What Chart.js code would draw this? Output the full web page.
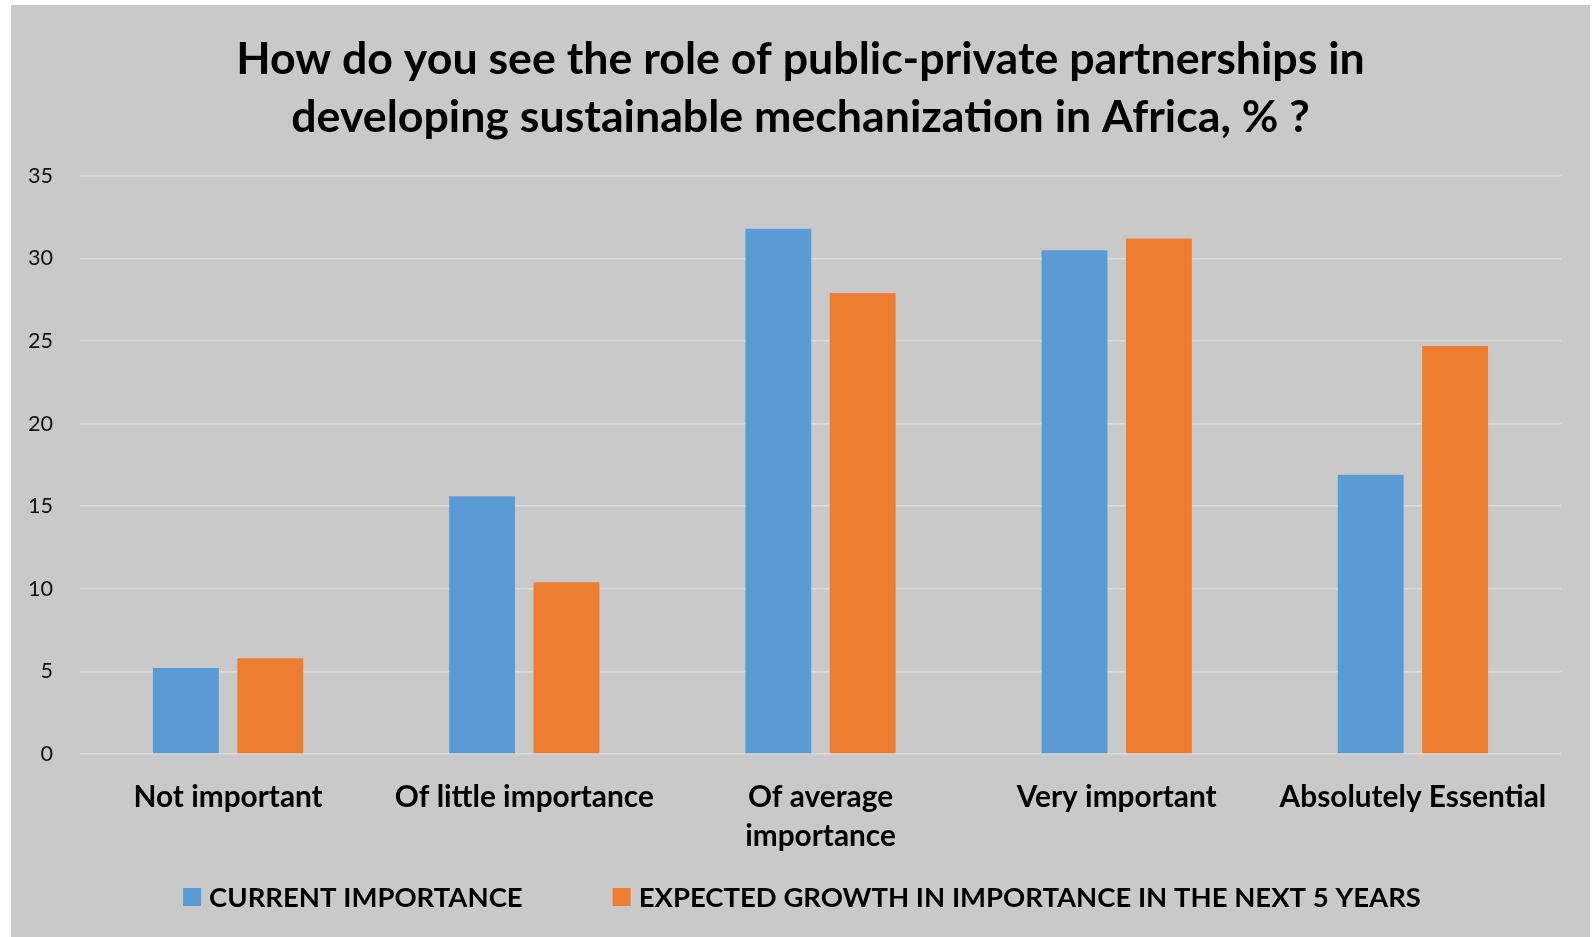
<!DOCTYPE html>
<html>
<head>
<meta charset="utf-8">
<title>Public-private partnerships</title>
<script src="https://cdn.jsdelivr.net/npm/chart.js@4.4.1/dist/chart.umd.min.js"></script>
<style>
    html, body { margin: 0; padding: 0; background: #fff; }
    #wrap { width: 1593px; height: 937px; position: relative; }
</style>
</head>
<body>
<div id="wrap"><canvas id="myChart"></canvas></div>
<script>
        // survey answers, % of respondents
        const categories = ['Not important', 'Of little importance', ['Of average', 'importance'], 'Very important', 'Absolutely Essential'];
        const currentImportance = [5.2, 15.6, 31.8, 30.5, 16.9];
        const expectedGrowth = [5.8, 10.4, 27.9, 31.2, 24.7];
        const seriesNames = ['CURRENT IMPORTANCE', 'EXPECTED GROWTH IN IMPORTANCE IN THE NEXT 5 YEARS'];
        const seriesColors = ['#5B9BD5', '#ED7D31'];
        const yMax = 35;
        const yStep = 5;
        const titleLines = ['How do you see the role of public-private partnerships in', 'developing sustainable mechanization in Africa, % ?'];

        const FONT = 'Lato';
        const PANEL = '#C9C9C9';

        // pick a font size so a string comes out at a given width
        const probe = document.createElement('canvas').getContext('2d');
        function sizeFor(text, weight, width) {
            probe.font = `${weight} 100px ${FONT}`;
            return Math.round(1000 * width / probe.measureText(text).width) / 10;
        }

        const titleSize = sizeFor(titleLines[0], 'bold', 1129);
        const labelSize = sizeFor('Not important', 'bold', 189);
        const tickSize = sizeFor('35', 'normal', 25);
        const legendSize = sizeFor(seriesNames[0], 'bold', 313);

        // grey panel behind everything
        const panelBg = {
            id: 'panelBg',
            beforeDraw(chart) {
                const c = chart.ctx;
                c.save();
                c.fillStyle = '#fff';
                c.fillRect(0, 0, chart.width, chart.height);
                c.fillStyle = PANEL;
                c.fillRect(11, 5, 1579, chart.height - 5);
                c.restore();
            }
        };

        // legend row under the axis
        const bottomLegend = {
            id: 'bottomLegend',
            afterDraw(chart) {
                const c = chart.ctx;
                const box = 18, gap = 8, spacing = 90, midY = 897;
                c.save();
                c.font = `bold ${legendSize}px ${FONT}`;
                c.textBaseline = 'middle';
                const widths = chart.data.datasets.map(ds => c.measureText(ds.label).width);
                let total = 0;
                widths.forEach((w, i) => { total += box + gap + w + (i ? spacing : 0); });
                let x = 802 - total / 2;
                chart.data.datasets.forEach((ds, i) => {
                    c.fillStyle = ds.backgroundColor;
                    c.fillRect(x, midY - box / 2, box, box);
                    c.fillStyle = '#000';
                    c.fillText(ds.label, x + box + gap, midY + 1);
                    x += box + gap + widths[i] + spacing;
                });
                c.restore();
            }
        };

        const ctx = document.getElementById('myChart').getContext('2d');
        const myChart = new Chart(ctx, {
            type: 'bar',
            data: {
                labels: categories,
                datasets: [{
                    label: seriesNames[0],
                    data: currentImportance,
                    backgroundColor: seriesColors[0]
                }, {
                    label: seriesNames[1],
                    data: expectedGrowth,
                    backgroundColor: seriesColors[1]
                }]
            },
            options: {
                responsive: true,
                maintainAspectRatio: false,
                animation: false,
                categoryPercentage: 0.57,
                barPercentage: 0.78,
                layout: { padding: { left: 11, right: 3, top: 0, bottom: 0 } },
                plugins: {
                    legend: { display: false },
                    tooltip: { enabled: false },
                    title: {
                        display: true,
                        text: titleLines,
                        color: '#000',
                        font: { family: FONT, size: titleSize, weight: 'bold', lineHeight: 58 / titleSize },
                        padding: { top: 30.5, bottom: 29.3 }
                    }
                },
                scales: {
                    x: {
                        grid: { display: false, drawTicks: false },
                        border: { display: false },
                        ticks: {
                            color: '#000',
                            padding: 23.5,
                            maxRotation: 0,
                            autoSkip: false,
                            font: { family: FONT, size: labelSize, weight: 'bold', lineHeight: 39 / labelSize }
                        },
                        afterFit(scale) { scale.height = 183; }
                    },
                    y: {
                        min: 0,
                        max: yMax,
                        grid: { color: '#DBDBDB', lineWidth: 1.6, drawTicks: false },
                        border: { display: false },
                        ticks: {
                            stepSize: yStep,
                            color: '#111',
                            padding: 27,
                            font: { family: FONT, size: tickSize }
                        },
                        afterFit(scale) { scale.width = 69; }
                    },
                    // empty strip on the right edge of the plot
                    yRight: {
                        position: 'right',
                        grid: { display: false, drawTicks: false },
                        border: { display: false },
                        ticks: { display: false },
                        afterFit(scale) { scale.width = 29; }
                    }
                }
            },
            plugins: [panelBg, bottomLegend]
        });
</script>
</body>
</html>
